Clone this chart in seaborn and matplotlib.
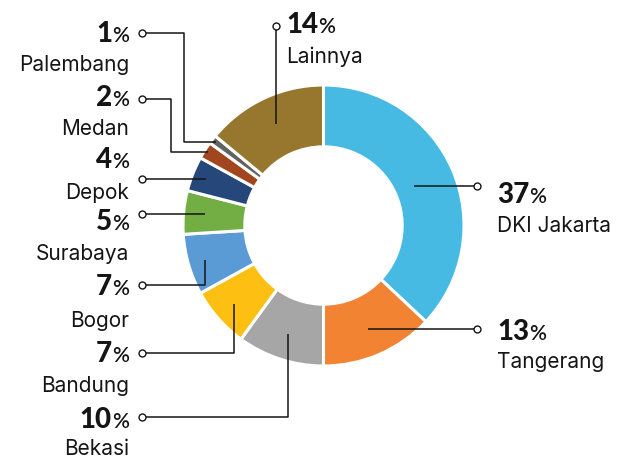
import matplotlib
matplotlib.use("Agg")
import matplotlib.pyplot as plt
import seaborn as sns
import numpy as np

# ----------------------------------------- data -----------------------------------------
regions = ["DKI Jakarta", "Tangerang", "Bekasi", "Bandung", "Bogor",
           "Surabaya", "Depok", "Medan", "Palembang", "Lainnya"]
shares = [37, 13, 10, 7, 7, 5, 4, 2, 1, 14]
slice_colors = ["#47BAE4", "#F28333", "#A5A6A5", "#FDC012", "#5A9BD5",
                "#72AE44", "#254779", "#A1461F", "#636363", "#97772E"]

# ----------------------------------------- layout (pixels from top-left) -----------------
# radius fraction of leader end inside the slice, dot position, elbow x
leader_r = [0.70, 0.80, 0.81, 0.85, 0.88, 0.85, 0.90, 0.97, 0.97, 0.80]
dot_x = [477, 477, 142, 142, 142, 142, 142, 142, 142, None]
dot_y = [None, None, 417, 353, 285, None, None, 99, 33, 26]
elbow_x = [None, None, None, None, None, None, None, 171, 184, None]
# text: anchor x, alignment, baseline of percentage, baseline of name
text_x = [497, 497, 129, 129, 129, 129, 129, 129, 129, 286]
text_ha = ["left", "left", "right", "right", "right", "right", "right", "right", "right", "left"]
pct_base = [203, 340, 428, 362, 295, 230, 168, 106, 42, 33]
name_base = [232, 368, 455, 392, 327, 260, 199, 135, 71, 63]

sns.set_theme(style="white")
plt.rcParams["font.family"] = ["Lato", "DejaVu Sans"]

W, H = 622, 459
fig = plt.figure(figsize=(W / 100, H / 100), dpi=100)
ax = fig.add_axes([0, 0, 1, 1])

cx, cy, R = 323.5, H - 225.5, 140.5
wedges, _ = ax.pie(shares, colors=sns.color_palette(slice_colors), startangle=90,
                   counterclock=False, center=(cx, cy), radius=R,
                   wedgeprops=dict(width=R * 0.44, edgecolor="white", linewidth=2.2))
ax.set_xlim(0, W)
ax.set_ylim(0, H)
ax.set_aspect("equal")
ax.axis("off")

renderer = fig.canvas.get_renderer()
inv = ax.transData.inverted()
ink = "#151515"


def pct_label(x, y, num, ha):
    if ha == "right":
        t = ax.text(x, y, "%", ha="right", va="baseline", fontsize=15,
                    fontweight="semibold", color=ink)
        bb = t.get_window_extent(renderer).transformed(inv)
        ax.text(bb.x0, y, num, ha="right", va="baseline", fontsize=20,
                fontweight="black", color=ink)
    else:
        t = ax.text(x, y, num, ha="left", va="baseline", fontsize=20,
                    fontweight="black", color=ink)
        bb = t.get_window_extent(renderer).transformed(inv)
        ax.text(bb.x1, y, "%", ha="left", va="baseline", fontsize=15,
                fontweight="semibold", color=ink)


for i, w in enumerate(wedges):
    mid = np.deg2rad((w.theta1 + w.theta2) / 2)
    ex = cx + leader_r[i] * R * np.cos(mid)
    ey = cy + leader_r[i] * R * np.sin(mid)
    dx = ex if dot_x[i] is None else dot_x[i]
    dy = ey if dot_y[i] is None else H - dot_y[i]
    if elbow_x[i] is not None:
        xs = [dx, elbow_x[i], elbow_x[i], ex]
        ys = [dy, dy, ey, ey]
    else:
        xs = [dx, ex, ex]
        ys = [dy, dy, ey]
    ax.plot(xs, ys, color=ink, lw=1.1, solid_capstyle="butt", zorder=3)
    ax.plot(dx, dy, "o", ms=5, mfc="white", mec=ink, mew=1.0, zorder=4)

    pct_label(text_x[i], H - pct_base[i], str(shares[i]), text_ha[i])
    ax.text(text_x[i], H - name_base[i], regions[i], ha=text_ha[i], va="baseline",
            fontsize=15, family=["Inter", "DejaVu Sans"], color=ink)

fig.savefig("out.png", dpi=100)
